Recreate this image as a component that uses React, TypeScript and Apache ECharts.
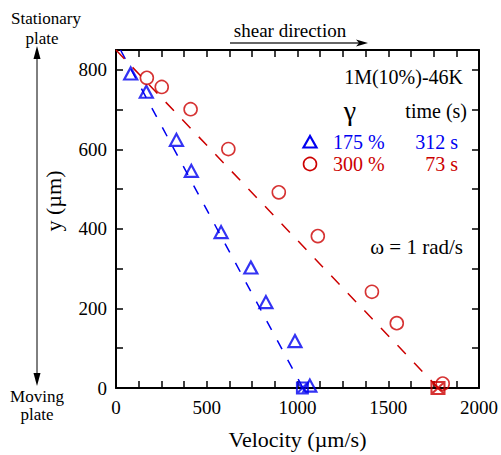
import React, { useEffect, useRef } from "react";
import * as echarts from "echarts";

// ---- data ----
const blueVelocity = [81, 167, 333, 415, 579, 743, 826, 986, 1068];
const blueY = [791, 745, 624, 546, 392, 303, 216, 118, 6];
const redVelocity = [170, 252, 411, 619, 897, 1112, 1410, 1547, 1800];
const redY = [780, 757, 701, 601, 492, 382, 242, 163, 11];
const bluePlate = [[1027, 0]];
const redPlate = [[1774, 0]];
const blueFit = [[25, 850], [1030, 0]];
const redFit = [[0, 850], [1775, 0]];
const xLabels = [0, 500, 1000, 1500, 2000];
const yLabels = [0, 200, 400, 600, 800];

const BLUE = "#0000f0";
const RED = "#cc0000";
const FONT = "Liberation Serif";

const crossSquare = "path://M0,0L10,0L10,10L0,10Z M0,0L10,10 M10,0L0,10";

function txt(text: string, x: number, y: number, size: number, align: string, fill = "#000", extra: any = {}) {
  return {
    type: "text",
    x,
    y,
    z: 100,
    ...extra,
    style: { text, fontSize: size, fontFamily: FONT, fill, align, verticalAlign: "middle" },
  };
}

export default function App() {
  const ref = useRef<HTMLDivElement>(null);
  useEffect(() => {
    if (!ref.current) return;
    const chart = echarts.init(ref.current, null, { renderer: "svg" });
    const axisCommon = (min: number, max: number, interval: number) => ({
      type: "value",
      min,
      max,
      interval,
      axisLine: { show: true, onZero: false, lineStyle: { color: "#000", width: 2 } },
      axisTick: { show: true, inside: true, length: 7, lineStyle: { color: "#000", width: 1.5 } },
      splitLine: { show: false },
    });
    const option: any = {
      animation: false,
      grid: { left: 116, right: 20, top: 50, bottom: 67, containLabel: false },
      xAxis: [
        {
          ...axisCommon(0, 2000, 125),
          position: "bottom",
          axisLabel: {
            formatter: (v: number) => (xLabels.includes(v) ? String(v) : ""),
            margin: 10,
            fontSize: 19,
            fontFamily: FONT,
            color: "#000",
          },
          name: "Velocity (µm/s)",
          nameLocation: "middle",
          nameGap: 40,
          nameTextStyle: { fontSize: 22, fontFamily: FONT, color: "#000" },
        },
        { ...axisCommon(0, 2000, 125), position: "top", axisLabel: { show: false } },
      ],
      yAxis: [
        {
          ...axisCommon(0, 850, 100),
          position: "left",
          axisLabel: {
            formatter: (v: number) => (yLabels.includes(v) ? String(v) : ""),
            margin: 9,
            fontSize: 19,
            fontFamily: FONT,
            color: "#000",
          },
        },
        { ...axisCommon(0, 850, 100), position: "right", axisLabel: { show: false } },
      ],
      series: [
        {
          type: "line",
          data: blueFit,
          symbol: "none",
          lineStyle: { color: BLUE, width: 1.5, type: [10, 12] },
          z: 2,
        },
        {
          type: "line",
          data: redFit,
          symbol: "none",
          lineStyle: { color: RED, width: 1.5, type: [12, 12] },
          z: 2,
        },
        {
          type: "scatter",
          name: "175 %",
          data: blueVelocity.map((v, i) => [v, blueY[i]]),
          symbol: "triangle",
          symbolSize: [13, 12],
          clip: false,
          itemStyle: { color: "none", borderColor: BLUE, borderWidth: 2.2 },
          z: 3,
        },
        {
          type: "scatter",
          name: "300 %",
          data: redVelocity.map((v, i) => [v, redY[i]]),
          symbol: "circle",
          symbolSize: 13,
          clip: false,
          itemStyle: { color: "none", borderColor: RED, borderWidth: 1.6 },
          z: 3,
        },
        {
          type: "scatter",
          data: bluePlate,
          symbol: crossSquare,
          symbolSize: [11, 11],
          clip: false,
          itemStyle: { color: "none", borderColor: BLUE, borderWidth: 2 },
          z: 3,
        },
        {
          type: "scatter",
          data: redPlate,
          symbol: crossSquare,
          symbolSize: [13, 12],
          clip: false,
          itemStyle: { color: "none", borderColor: RED, borderWidth: 2 },
          z: 3,
        },
      ],
      graphic: [
        txt("Stationary", 46, 18, 17, "center"),
        txt("plate", 42, 38, 17, "center"),
        txt("Moving", 37, 396, 17, "center"),
        txt("plate", 37, 414, 17, "center"),
        txt("shear direction", 290, 30, 19, "center"),
        txt("1M(10%)-46K", 463, 77, 20, "right"),
        txt("γ", 350, 110, 28, "center"),
        txt("time (s)", 467, 111, 20, "right"),
        txt("175 %", 333, 142, 20, "left", BLUE),
        txt("312 s", 458, 142, 20, "right", BLUE),
        txt("300 %", 333, 164, 20, "left", RED),
        txt("73 s", 458, 164, 20, "right", RED),
        txt("ω = 1 rad/s", 463, 247, 21, "right"),
        txt("y (µm)", 53, 201, 22, "center", "#000", { rotation: Math.PI / 2 }),
        {
          type: "line",
          z: 100,
          shape: { x1: 37, y1: 54, x2: 37, y2: 378 },
          style: { stroke: "#000", lineWidth: 1 },
        },
        {
          type: "polygon",
          z: 100,
          shape: { points: [[37, 46], [33.5, 59], [40.5, 59]] },
          style: { fill: "#000" },
        },
        {
          type: "polygon",
          z: 100,
          shape: { points: [[37, 386], [33.5, 373], [40.5, 373]] },
          style: { fill: "#000" },
        },
        {
          type: "line",
          z: 100,
          shape: { x1: 230, y1: 43, x2: 362, y2: 43 },
          style: { stroke: "#333", lineWidth: 1.3 },
        },
        {
          type: "polygon",
          z: 100,
          shape: { points: [[368, 43], [356, 39.5], [359, 43], [356, 46.5]] },
          style: { fill: "#000" },
        },
        {
          type: "polygon",
          z: 100,
          shape: { points: [[310, 136], [303.5, 147.5], [316.5, 147.5]] },
          style: { fill: "none", stroke: BLUE, lineWidth: 2.2 },
        },
        {
          type: "circle",
          z: 100,
          shape: { cx: 310, cy: 164, r: 6.5 },
          style: { fill: "none", stroke: RED, lineWidth: 1.6 },
        },
      ],
    };
    chart.setOption(option);
    return () => chart.dispose();
  }, []);
  return (
    <div
      ref={ref}
      style={{ position: "absolute", left: 0, top: 0, width: 501, height: 455, background: "#fff" }}
    />
  );
}
